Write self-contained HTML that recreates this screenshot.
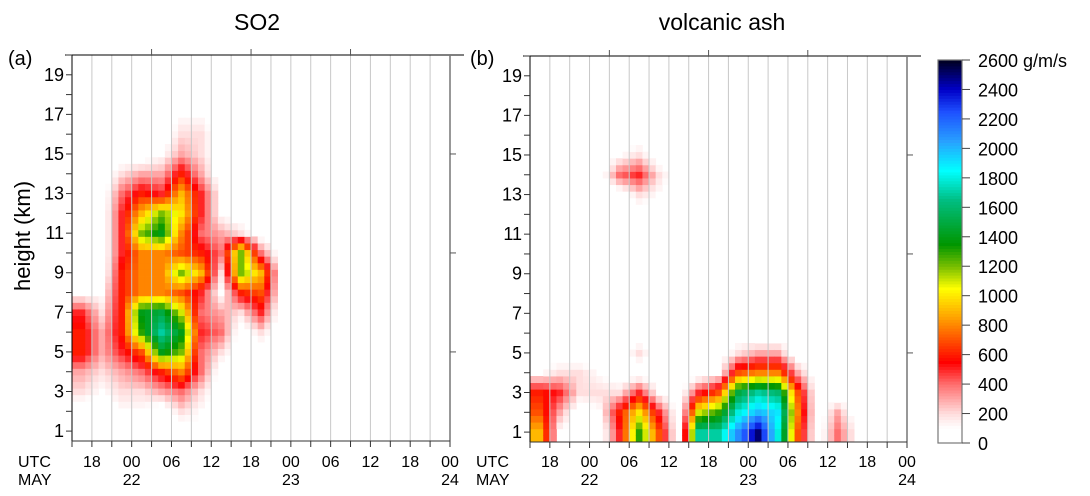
<!DOCTYPE html>
<html><head><meta charset="utf-8"><style>
html,body{margin:0;padding:0;background:#fff;}
svg{display:block;font-family:"Liberation Sans",Arial,sans-serif;}
</style></head><body>
<svg id="chart" width="1090" height="496" viewBox="0 0 1090 496" xmlns="http://www.w3.org/2000/svg">
<g id="panelA"></g>
<g id="panelB"></g>
<g id="cbar"></g>
<text x="257" y="30" font-size="23" text-anchor="middle">SO2</text>
<text x="722" y="30" font-size="23" text-anchor="middle">volcanic ash</text>
<text x="8" y="65" font-size="20">(a)</text>
<text x="470" y="65" font-size="20">(b)</text>
<text transform="translate(30,236) rotate(-90)" font-size="22" text-anchor="middle">height (km)</text>
</svg>
<script>
// columns: 3-hour bins starting 15 UTC May 21; each column lists heights 1..20 km
// values in units of 100 g/m/s
const so2Columns = [
 [0,0,2,3,6,6,5,1,0,0,0,0,0,0,0,0,0,0,0,0],
 [0,0,1,2,3,3,2,1,0,0,0,0,0,0,0,0,0,0,0,0],
 [1,1,2,3,5,6,6,6,6,5,5,5,4,2,0,0,0,0,0,0],
 [0,1,2,4,7,13,14,8,8,8,12,9,6,3,0,0,0,0,0,0],
 [0,0,3,6,14,17,15,8,8,8,14,12,5,3,1,0,0,0,0,0],
 [0,2,4,8,12,14,11,7,12,7,8,10,9,6,3,2,1,0,0,0],
 [1,1,2,4,4,5,4,5,9,6,4,5,5,3,2,2,1,1,0,0],
 [0,0,0,0,2,4,3,1,2,4,3,1,1,0,0,0,0,0,0,0],
 [0,0,0,0,0,0,2,6,12,12,2,0,0,1,0,1,0,0,0,0],
 [0,0,0,0,0,2,5,7,9,4,0,0,0,0,0,0,0,0,0,0],
 [0,0,0,0,0,0,0,1,1,0,0,0,0,0,0,0,0,0,0,0],
 [0,0,0,0,0,0,0,1,0,0,0,0,0,0,0,0,0,0,0,0]
];
const ashColumns = [
 [9,7,6,1,0,0,0,0,0,0,0,0,0,0,0,0,0,0,0,0],
 [1,3,5,2,0,0,0,0,0,0,0,0,0,0,0,0,0,0,0,0],
 [0,0,2,2,0,0,0,0,0,0,0,0,0,0,0,0,0,0,0,0],
 [0,1,2,1,0,0,0,0,0,0,0,0,0,0,0,0,0,0,0,0],
 [5,6,2,0,0,0,0,0,0,0,0,0,0,4,1,0,0,0,0,0],
 [13,10,5,0,2,0,0,0,0,0,0,0,2,5,2,0,0,0,0,0],
 [7,5,1,0,0,0,0,0,0,0,0,0,1,2,0,0,0,0,0,0],
 [0,0,0,0,0,0,0,1,0,0,0,0,0,0,0,0,0,0,0,0],
 [17,11,5,0,0,0,0,0,0,0,0,0,0,0,0,0,0,0,0,0],
 [17,13,7,1,0,0,0,0,0,0,0,0,0,0,0,0,0,0,0,0],
 [21,18,15,7,2,0,0,0,0,0,0,0,0,0,0,0,0,0,0,0],
 [25,20,17,8,3,0,0,0,0,0,0,0,0,0,0,0,0,0,0,0],
 [18,19,16,8,3,0,0,0,0,0,0,0,0,0,0,0,0,0,0,0],
 [7,8,7,3,0,0,0,0,0,0,0,0,0,0,0,0,0,0,0,0],
 [0,0,0,0,0,0,0,0,0,0,0,0,0,0,0,0,0,0,0,0],
 [4,3,0,0,0,0,0,0,0,0,0,0,0,0,0,0,0,0,0,0],
 [1,0,0,0,0,0,0,0,0,0,0,0,0,0,0,0,0,0,0,0]
];
const yTickLabels = [1,3,5,7,9,11,13,15,17,19];
const xTickLabels = ["18","00","06","12","18","00","06","12","18","00"];
const dayLabels = ["22","23","24"];
const cbarTicks = [0,200,400,600,800,1000,1200,1400,1600,1800,2000,2200,2400,2600];

const NS="http://www.w3.org/2000/svg";
function mk(tag,attrs,parent){const e=document.createElementNS(NS,tag);for(const k in attrs)e.setAttribute(k,attrs[k]);parent.appendChild(e);return e;}
const stops=[[0,[255,255,255]],[100,[255,255,255]],[200,[255,222,222]],[400,[255,110,110]],[550,[255,0,0]],[700,[255,80,0]],[850,[255,160,0]],[1050,[255,255,0]],[1200,[120,190,0]],[1350,[0,150,0]],[1650,[0,190,130]],[1850,[0,255,255]],[2050,[40,160,255]],[2250,[30,80,255]],[2400,[0,0,200]],[2600,[0,0,30]]];
function color(v){if(v<=100)return null;for(let i=1;i<stops.length;i++){if(v<=stops[i][0]){const a=stops[i-1],b=stops[i];const t=(v-a[0])/(b[0]-a[0]);const c=a[1].map((x,j)=>Math.round(x+(b[1][j]-x)*t));return `rgb(${c})`;}}return "rgb(0,0,30)";}

function sample(cols,h,k){ // smooth display sampling between cell centres (edge-clamped)
  let fi=(h-16.5)/3, fj=k-1;
  if(fi<0)fi=0; if(fj<0)fj=0;
  const i0=Math.floor(fi), j0=Math.floor(fj), ti=fi-i0, tj=fj-j0;
  const g=(i,j)=>(i<0||i>=cols.length||j<0||j>=20)?0:cols[i][j];
  return (g(i0,j0)*(1-ti)+g(i0+1,j0)*ti)*(1-tj)+(g(i0,j0+1)*(1-ti)+g(i0+1,j0+1)*ti)*tj;
}

function drawPanel(g,x0,x1,y0,y1,cols,nm){
  const hx=h=>x0+(h-15)*(x1-x0)/57;
  const ky=k=>y1-(k-0.5)*(y1-y0)/19.5;
  const dh=1, dk=1/3;
  for(let h=15;h<72;h+=dh){for(let k=0.5;k<20;k+=dk){
    const v=sample(cols,h+dh/2,k+dk/2)*100;const c=color(v);if(!c)continue;
    const xa=hx(h),xb=hx(h+dh),ya=Math.max(ky(k+dk),y0),yb=ky(k);
    const r=mk('rect',{x:xa,y:ya,width:xb-xa+0.4,height:yb-ya+0.4,fill:c},g);
    
    
  }}
  for(let h=18;h<72;h+=3){const l=mk('line',{x1:hx(h),x2:hx(h),y1:y0,y2:y1,stroke:'#c8c8c8','stroke-width':1},g);
    }
  mk('line',{x1:x0-7,x2:x1+14,y1:y0,y2:y0,stroke:'#000'},g);
  mk('line',{x1:x0,x2:x0,y1:y0,y2:y1,stroke:'#000'},g);
  mk('line',{x1:x1,x2:x1,y1:y0,y2:y1,stroke:'#777','stroke-width':1.5},g);
  mk('line',{x1:x0,x2:x1,y1:y1,y2:y1,stroke:'#333'},g);
  [27,42,57].forEach(h=>mk('line',{x1:hx(h),x2:hx(h),y1:y0-6,y2:y0,stroke:'#555'},g));
  [5,10,15].forEach(k=>mk('line',{x1:x1,x2:x1+6,y1:ky(k),y2:ky(k),stroke:'#555'},g));
  for(let k=1;k<=20;k++)mk('line',{x1:x0-6,x2:x0,y1:ky(k),y2:ky(k),stroke:'#333'},g);
  yTickLabels.forEach(k=>{const t=mk('text',{x:x0-8,y:ky(k)+6,'font-size':18,'text-anchor':'end'},g);t.textContent=k;
    });
  for(let h=15;h<=72;h+=3)mk('line',{x1:hx(h),x2:hx(h),y1:y1,y2:y1+6,stroke:'#333'},g);
  xTickLabels.forEach((s,i)=>{const t=mk('text',{x:hx(18+6*i),y:467,'font-size':16,'text-anchor':'middle'},g);t.textContent=s;
    });
  dayLabels.forEach((s,i)=>{const t=mk('text',{x:hx(24+24*i),y:485,'font-size':16,'text-anchor':'middle'},g);t.textContent=s;
    });
  const u=mk('text',{x:x0-54,y:467,'font-size':16},g);u.textContent='UTC';
  
  const m=mk('text',{x:x0-54,y:485,'font-size':16},g);m.textContent='MAY';
  
}
drawPanel(document.getElementById('panelA'),72,450,55,441,so2Columns,'so2');
drawPanel(document.getElementById('panelB'),530,907,56,442,ashColumns,'ash');

(function(){const g=document.getElementById('cbar');const cx0=938,cx1=962,cy0=60,cy1=443;
  const vy=v=>cy1-v*(cy1-cy0)/2600;
  for(let v=0;v<2600;v+=20){const c=color(v+10)||'#fff';mk('rect',{x:cx0,y:vy(v+20),width:cx1-cx0,height:vy(v)-vy(v+20)+0.5,fill:c},g);}
  mk('rect',{x:cx0,y:cy0,width:cx1-cx0,height:cy1-cy0,fill:'none',stroke:'#777','stroke-width':1.2},g);
  cbarTicks.forEach(v=>{mk('line',{x1:cx1,x2:cx1+8,y1:vy(v),y2:vy(v),stroke:'#444'},g);
    const t=mk('text',{x:978,y:vy(v)+7,'font-size':18},g);t.textContent=v===2600?'2600 g/m/s':v;
    });
})();
</script>
</body></html>
